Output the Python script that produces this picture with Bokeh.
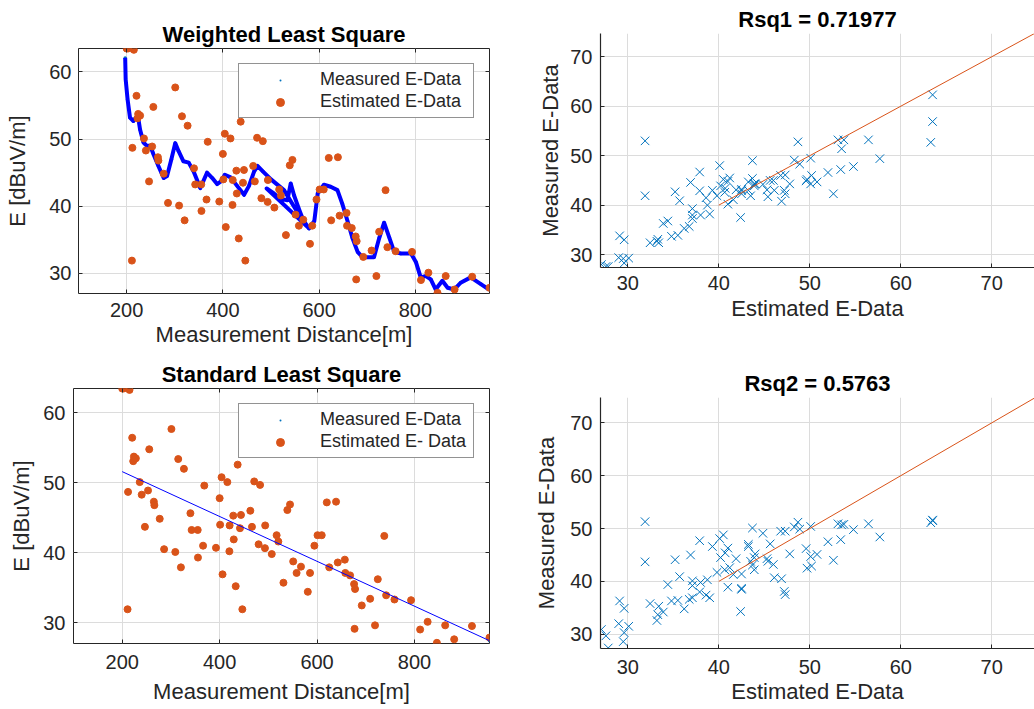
import numpy as np
from bokeh.plotting import figure
from bokeh.models import (Range1d, ColumnDataSource, Legend, LegendItem,
                          LinearAxis, FixedTicker, CustomJSTickFormatter,
                          CDSView, IndexFilter)
from bokeh.layouts import row, column
from bokeh.embed import file_html
from bokeh.resources import INLINE

# ---------------- data ----------------
distance = [200, 203, 211, 212, 215, 220.5, 222.6, 224, 228, 236, 240, 246.6,
            253, 255.5, 265, 266, 277, 286, 301, 309, 315, 320.5, 326.7, 340,
            342.5, 355, 355.5, 366, 368.5, 392.5, 400, 401, 404, 406, 415.8,
            420, 420.5, 428, 429, 433, 437, 441.8, 443.8, 446.6, 463, 466.4,
            471, 480, 483, 493, 493.5, 507, 517, 520.5, 531, 539, 544.5, 551,
            558, 567, 581, 585.6, 594.5, 601, 609.6, 620, 625, 639, 642.5, 657,
            658, 667.8, 676, 677, 678, 691.8, 709, 719, 724.7, 738, 741.8,
            758.9, 793, 811.6, 827, 846, 863, 881.5, 918, 954]
estimated = [63.5, 63.5, 31.9, 48.7, 63.3, 56.45, 53.1, 53.75, 53.5, 50.1, 48.3,
             43.7, 48.9, 54.8, 47.3, 46.8, 44.85, 40.5, 57.7, 40.1, 53.4, 37.9,
             52.0, 45.65, 43.25, 43.25, 39.3, 41.0, 49.6, 40.7, 47.8, 44.0, 50.8,
             36.9, 50.1, 40.2, 43.9, 45.3, 41.9, 35.2, 52.6, 43.5, 45.4, 31.9,
             46.0, 43.7, 50.2, 41.2, 49.7, 40.65, 43.9, 39.8, 42.5, 41.6, 35.7,
             46.1, 46.9, 38.75, 37.1, 38.0, 34.4, 37.1, 41.0, 42.5, 42.5, 47.2,
             37.9, 47.3, 38.6, 39.0, 37.1, 36.75, 35.5, 29.1, 34.8, 32.45, 33.4,
             29.6, 36.2, 42.4, 33.9, 33.3, 33.2, 29.0, 30.1, 27.1, 29.6, 27.6,
             29.5, 27.85]
measured_wls = [62.3, 56.9, 53.0, 52.8, 52.7, 53.2, 53.2, 53.2, 51.4, 49.5, 49.1,
                49.0, 48.3, 47.8, 46.1, 46.0, 44.2, 45.2, 49.4, 48.0, 47.2, 46.7,
                46.6, 45.0, 44.7, 43.0, 43.0, 44.8, 44.9, 43.4, 44.3, 44.3, 44.7,
                44.6, 44.3, 43.9, 43.9, 43.1, 43.1, 42.7, 42.3, 41.9, 41.7, 41.9,
                45.0, 45.4, 46.0, 45.5, 45.2, 42.6, 44.3, 41.9, 42.9, 41.1, 40.9,
                43.0, 40.8, 40.0, 39.3, 38.0, 36.8, 37.3, 40.2, 42.3, 43.2, 43.0,
                42.9, 42.3, 41.5, 38.2, 38.0, 35.7, 33.9, 33.8, 33.7, 32.4, 32.4,
                33.0, 35.3, 37.5, 36.3, 33.1, 32.7, 29.4, 29.3, 28.0, 28.3, 27.6,
                29.2, 27.6]
measured_sls = [51.6, 51.5, 51.3, 51.2, 51.1, 50.9, 50.9, 50.8, 50.7, 50.4, 50.3,
                50.1, 49.9, 49.8, 49.5, 49.5, 49.1, 48.8, 48.4, 48.1, 47.9, 47.7,
                47.5, 47.1, 47.0, 46.6, 46.6, 46.3, 46.2, 45.4, 45.2, 45.2, 45.1,
                45.0, 44.7, 44.5, 44.5, 44.3, 44.3, 44.1, 44.0, 43.8, 43.8, 43.7,
                43.2, 43.1, 42.9, 42.6, 42.5, 42.2, 42.2, 41.7, 41.4, 41.3, 40.9,
                40.7, 40.5, 40.3, 40.1, 39.8, 39.4, 39.2, 38.9, 38.7, 38.5, 38.1,
                38.0, 37.5, 37.4, 36.9, 36.9, 36.6, 36.4, 36.3, 36.3, 35.8, 35.3,
                34.9, 34.8, 34.3, 34.2, 33.7, 32.6, 32.0, 31.5, 30.9, 30.3, 29.7,
                28.6, 27.4]
wls_curve_dist = [197, 198, 202, 207, 214, 219, 224, 228, 235, 242, 249, 256, 266,
                  277, 284, 293, 301, 308, 318, 329, 339, 353, 367, 378, 388, 396,
                  404, 416, 430, 444, 454, 465, 472, 483, 500, 527, 555, 579, 491,
                  506, 520, 534, 541, 548, 558, 569, 579, 590, 597, 610, 624, 638,
                  648, 659, 669, 680, 690, 714, 725, 735, 746, 756, 770, 791, 801,
                  811, 822, 832, 842, 856, 867, 881, 894, 915, 936, 953]
wls_curve_field = [62.1, 58.9, 55.9, 53.2, 52.7, 53.2, 53.2, 51.4, 49.5, 49.0, 49.0,
                   47.7, 46.0, 44.2, 44.5, 47.0, 49.4, 48.2, 46.7, 46.5, 45.2, 42.7,
                   45.0, 44.2, 43.3, 43.7, 44.7, 44.3, 43.0, 41.7, 43.0, 45.2, 46.0,
                   45.2, 44.0, 42.4, 39.1, 36.7, 42.65, 41.9, 41.1, 40.9, 43.4, 41.6,
                   39.6, 37.55, 36.7, 37.8, 41.9, 43.2, 42.9, 42.4, 40.4, 37.8, 35.3,
                   33.2, 32.4, 32.4, 35.3, 37.55, 35.3, 33.2, 32.96, 32.96, 31.7,
                   29.4, 29.6, 29.1, 27.6, 28.9, 27.85, 27.6, 28.6, 29.4, 28.4, 27.6]
sls_line_dist = [200, 954]
sls_line_field = [51.6, 27.4]
fit_line = [40, 80]
dist_ticks = [200, 400, 600, 800]
field_ticks = [30, 40, 50, 60]
rsq_ticks = [30, 40, 50, 60, 70]

FONT = "Liberation Sans"
TXT = "#262626"
GRID = "#dcdcdc"
ORANGE = "#D95319"
BLUE = "#0072BD"
PURE_BLUE = "#0000FF"


def style_common(p, xticks, yticks, xlabel, ylabel, xs, xls, ys, yls):
    p.title.text_font = FONT
    p.title.text_font_size = "22px"
    p.title.text_font_style = "bold"
    p.title.align = "center"
    p.title.text_color = "#000000"
    p.title.standoff = 4
    p.background_fill_color = "white"
    p.border_fill_color = "white"
    bx = p.below[0]
    ly = p.left[0]
    bx.ticker = FixedTicker(ticks=xticks)
    ly.ticker = FixedTicker(ticks=yticks)
    for ax, lab, so, lso in ((bx, xlabel, xs, xls), (ly, ylabel, ys, yls)):
        ax.axis_label = lab
        ax.axis_label_text_font = FONT
        ax.axis_label_text_font_size = "22px"
        ax.axis_label_text_font_style = "normal"
        ax.axis_label_text_color = TXT
        ax.axis_label_standoff = lso
        ax.major_label_text_font = FONT
        ax.major_label_text_font_size = "20px"
        ax.major_label_text_color = TXT
        ax.major_label_standoff = so
        ax.major_tick_in = 4
        ax.major_tick_out = 0
        ax.major_tick_line_color = TXT
        ax.minor_tick_line_color = None
    p.grid.grid_line_color = GRID
    p.grid.grid_line_width = 1


def box_ticks(p, xticks, yticks):
    empty = CustomJSTickFormatter(code="return ''")
    for loc, ticks in (("right", yticks), ("above", xticks)):
        ax = LinearAxis(ticker=FixedTicker(ticks=ticks), formatter=empty,
                        major_label_text_font_size="0px", major_label_standoff=0,
                        major_tick_in=4, major_tick_out=0,
                        major_tick_line_color=TXT, minor_tick_line_color=None,
                        axis_line_color=None)
        p.add_layout(ax, loc)


def make_legend(p, r1, r2, lab1, lab2):
    leg = Legend(items=[LegendItem(label=lab1, renderers=[r1]),
                        LegendItem(label=lab2, renderers=[r2])],
                 location="top_right", margin=15, padding=5, spacing=1,
                 glyph_width=72, glyph_height=20, label_height=20,
                 label_standoff=4, label_width=148,
                 label_text_font=FONT, label_text_font_size="18px",
                 label_text_color=TXT, border_line_color=TXT,
                 border_line_width=1, background_fill_color="white",
                 background_fill_alpha=1.0)
    p.add_layout(leg)


def left_panel(title, h, left, top, bottom, xs, xls, ys, yls):
    p = figure(width=530, height=h, title=title,
               x_range=Range1d(100, 954), y_range=Range1d(27.0, 63.5),
               output_backend="svg", toolbar_location=None, frame_align=False,
               min_border_left=left, min_border_right=41,
               min_border_top=top, min_border_bottom=bottom)
    style_common(p, dist_ticks, field_ticks, "Measurement Distance[m]", "E [dBuV/m]",
                 xs, xls, ys, yls)
    box_ticks(p, dist_ticks, field_ticks)
    p.outline_line_color = TXT
    p.outline_line_width = 1
    p.outline_line_alpha = 1
    p.below[0].axis_line_color = None
    p.left[0].axis_line_color = None
    return p


# ---------------- top-left: weighted least square ----------------
p1 = left_panel("Weighted Least Square", 355, 78, 48, 62, 9, 2, 7, 16)
m1 = p1.scatter(wls_curve_dist, wls_curve_field, marker="dot", size=14,
                line_color=BLUE, fill_color=BLUE)
p1.line(wls_curve_dist, wls_curve_field, line_color=PURE_BLUE, line_width=4,
        line_join="round")
e1 = p1.scatter(distance, estimated, marker="circle", size=7, fill_color=ORANGE,
                line_color=ORANGE)
make_legend(p1, m1, e1, "Measured E-Data", "Estimated E-Data")

# ---------------- bottom-left: standard least square ----------------
p3 = left_panel("Standard Least Square", 354, 73, 33, 66, 11, 7, 8, 6)
m3 = p3.scatter(sls_line_dist, sls_line_field, marker="dot", size=14,
                line_color=BLUE, fill_color=BLUE,
                view=CDSView(filter=IndexFilter([1])))
e3 = p3.scatter(distance, estimated, marker="circle", size=7, fill_color=ORANGE,
                line_color=ORANGE)
p3.line(sls_line_dist, sls_line_field, line_color=PURE_BLUE, line_width=1)
make_legend(p3, m3, e3, "Measured E-Data", "Estimated E- Data")


# ---------------- right panels ----------------
def rsq_panel(title, h, top, bottom, yr, yvals, xs, xls, ys, yls):
    p = figure(width=504, height=h, title=title,
               x_range=Range1d(27.0, 74.7), y_range=Range1d(*yr),
               output_backend="svg", toolbar_location=None, frame_align=False,
               min_border_left=70, min_border_right=0,
               min_border_top=top, min_border_bottom=bottom)
    style_common(p, rsq_ticks, rsq_ticks, "Estimated E-Data", "Measured E-Data",
                 xs, xls, ys, yls)
    p.outline_line_color = None
    for ax in (p.below[0], p.left[0]):
        ax.axis_line_color = TXT
        ax.axis_line_width = 1.2
    p.scatter(estimated, yvals, marker="x", size=12, line_color=BLUE,
              line_width=1)
    p.line(fit_line, fit_line, line_color=ORANGE, line_width=1)
    return p


p2 = rsq_panel("Rsq1 = 0.71977", 355, 33, 88, (27.4, 74.7), measured_wls,
               8, 3, 8, 4)
p4 = rsq_panel("Rsq2 = 0.5763", 354, 42, 61, (27.3, 74.8), measured_sls,
               11, 2, 8, 8)

layout = column(row(p1, p2), row(p3, p4))
open("out.html", "w").write(file_html(layout, INLINE))
